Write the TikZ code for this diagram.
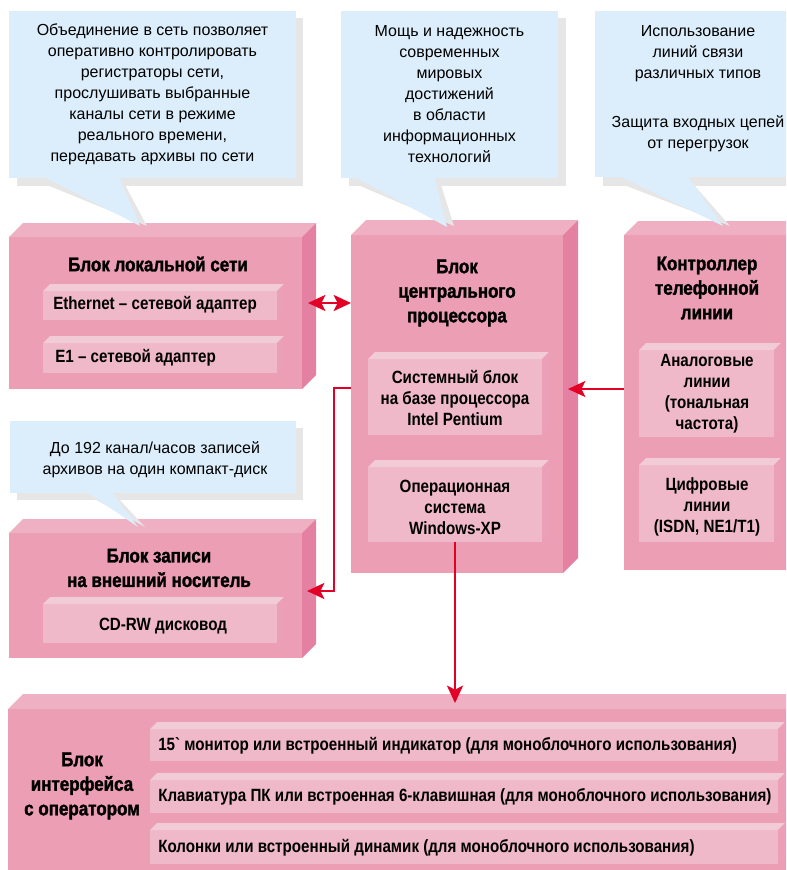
\documentclass[tikz,border=0pt]{standalone}
\usepackage{fontspec}
\setmainfont{Liberation Sans}
\newfontfamily\headfont[FakeStretch=0.86,BoldFeatures={FakeBold=1.6}]{Liberation Sans}
\newfontfamily\slabfont[FakeStretch=0.855]{Liberation Sans}
\newfontfamily\callfont{Liberation Sans}
\usetikzlibrary{arrows.meta,fit}
\definecolor{pkfront}{RGB}{236,158,181}
\definecolor{pktop}{RGB}{238,176,194}
\definecolor{pkside}{RGB}{228,128,161}
\definecolor{slfront}{RGB}{239,185,201}
\definecolor{sltop}{RGB}{241,203,214}
\definecolor{slside}{RGB}{235,160,184}
\definecolor{cblue}{RGB}{220,238,251}
\definecolor{cshadow}{RGB}{230,230,230}
\definecolor{arrred}{RGB}{226,0,38}
\newcommand\extrude[4]{%
  \fill[#3] (#1.north west) -- ++(#2,-#2) -- ([shift={(#2,-#2)}]#1.north east) -- (#1.north east) -- cycle;
  \fill[#4] (#1.north east) -- ++(#2,-#2) -- ([shift={(#2,-#2)}]#1.south east) -- (#1.south east) -- cycle;}
\tikzset{
  face/.style={inner sep=0pt, outer sep=0pt, draw=none},
  bigbox/.style={face, fill=pkfront},
  slab/.style={face, fill=slfront},
  bubble/.style={face, fill=cblue},
  htext/.style={font=\headfont\bfseries\fontsize{14.8}{18.4}\selectfont, align=center, inner sep=0pt},
  stext/.style={font=\slabfont\bfseries\fontsize{13.3}{15.8}\selectfont, align=center, inner sep=0pt},
  ctext/.style={font=\callfont\fontsize{12}{15.75}\selectfont, align=center, inner sep=0pt},
  arr/.style={draw=arrred, line width=2pt}
}
\begin{document}
\begin{tikzpicture}[x=0.75pt,y=-0.75pt]
\useasboundingbox (0,0) rectangle (786,870);
\clip (0,0) rectangle (786,870);
% ---------- big boxes ----------
\node[bigbox, fit={(9,237) (302,389)}] (b1) {};
\extrude{b1}{14}{pktop}{pkside}
\node[bigbox, fit={(351,235) (563,573)}] (b2) {};
\extrude{b2}{15}{pktop}{pkside}
\node[bigbox, fit={(624,235) (800,570)}] (b3) {};
\extrude{b3}{14}{pktop}{pkside}
\node[bigbox, fit={(9,533) (302,658)}] (b4) {};
\extrude{b4}{14}{pktop}{pkside}
\node[bigbox, fit={(8,709) (800,880)}] (b5) {};
\extrude{b5}{15}{pktop}{pkside}
% ---------- slabs ----------
\node[slab, fit={(43,291) (277,320)}] (eth) {};
\extrude{eth}{7}{sltop}{slside}
\node[slab, fit={(43,343) (277,373)}] (e1) {};
\extrude{e1}{7}{sltop}{slside}
\node[slab, fit={(368,359) (542,435)}] (sys) {};
\extrude{sys}{7}{sltop}{slside}
\node[slab, fit={(368,467) (542,542)}] (os) {};
\extrude{os}{7}{sltop}{slside}
\node[slab, fit={(639,350) (774,437)}] (an) {};
\extrude{an}{7}{sltop}{slside}
\node[slab, fit={(639,465) (774,542)}] (dig) {};
\extrude{dig}{7}{sltop}{slside}
\node[slab, fit={(43,604) (277,643)}] (cd) {};
\extrude{cd}{7}{sltop}{slside}
\node[slab, fit={(150,729) (778,761)}] (m1) {};
\extrude{m1}{7}{sltop}{slside}
\node[slab, fit={(150,780) (778,813)}] (m2) {};
\extrude{m2}{7}{sltop}{slside}
\node[slab, fit={(150,830) (778,864)}] (m3) {};
\extrude{m3}{7}{sltop}{slside}
% ---------- titles ----------
\node[htext] (t1) at (158,264) {Блок локальной сети};
\node[htext] (t2) at (457,293) {Блок\\центрального\\процессора};
\node[htext] (t3) at (707,288) {Контроллер\\телефонной\\линии};
\node[htext] (t4) at (159,568) {Блок записи\\на внешний носитель};
\node[htext] (t5) at (82,786) {Блок\\интерфейса\\с оператором};
% ---------- slab texts ----------
\node[stext, anchor=west] at (53,305) {Ethernet – сетевой адаптер};
\node[stext, anchor=west] at (55,358) {E1 – сетевой адаптер};
\node[stext] at (455,398) {Системный блок\\на базе процессора\\Intel Pentium};
\node[stext] at (455,507) {Операционная\\система\\Windows-XP};
\node[stext] at (707,394) {Аналоговые\\линии\\(тональная\\частота)};
\node[stext] at (707,507) {Цифровые\\линии\\(ISDN, NE1/T1)};
\node[stext] at (163,626) {CD-RW дисковод};
\node[stext, anchor=west] at (158,746) {15` монитор или встроенный индикатор (для моноблочного использования)};
\node[stext, anchor=west] at (158,797) {Клавиатура ПК или встроенная 6-клавишная (для моноблочного использования)};
\node[stext, anchor=west] at (158,848) {Колонки или встроенный динамик (для моноблочного использования)};
% ---------- callouts ----------
\fill[cshadow] (17,18) rectangle (303,186);
\fill[cshadow] (47,185) -- (125,185) -- (147,226) -- cycle;
\fill[cblue] (40,175) -- (118,175) -- (140,226) -- cycle;
\node[bubble, fit={(9,11) (296,178)}] (c1) {};
\node[ctext] at (c1) {Объединение в сеть позволяет\\оперативно контролировать\\регистраторы сети,\\прослушивать выбранные\\каналы сети в режиме\\реального времени,\\передавать архивы по сети};
\fill[cshadow] (349,18) rectangle (566,186);
\fill[cshadow] (358,185) -- (441,185) -- (454,226) -- cycle;
\fill[cblue] (351,175) -- (434,175) -- (447,227) -- cycle;
\node[bubble, fit={(341,11) (558,178)}] (c2) {};
\node[ctext] at (c2) {Мощь и надежность\\современных\\мировых\\достижений\\в области\\информационных\\технологий};
\fill[cshadow] (603,18) rectangle (800,186);
\fill[cshadow] (624,185) -- (694,185) -- (730,226) -- cycle;
\fill[cblue] (617,175) -- (687,175) -- (723,226) -- cycle;
\node[bubble, fit={(595,11) (800,177)}] (c3) {};
\node[ctext] (c3a) at (698,54) {Использование\\линий связи\\различных типов};
\node[ctext] (c3b) at (698,134) {Защита входных цепей\\от перегрузок};
\fill[cshadow] (17,428) rectangle (303,500);
\fill[cshadow] (91,497) -- (117,497) -- (145,527) -- cycle;
\fill[cblue] (84,490) -- (110,490) -- (138,527) -- cycle;
\node[bubble, fit={(10,421) (296,493)}] (c4) {};
\node[ctext] at (155,460) {До 192 канал/часов записей\\архивов на один компакт-диск};
% ---------- connectors ----------
\coordinate (a1s) at (308,303);
\coordinate (a1e) at (b2.west |- a1s);
\draw[arr, {Stealth[length=13pt, width=12pt, inset=3pt]}-{Stealth[length=13pt, width=12pt, inset=3pt]}] (a1s) -- (a1e);
\coordinate (a2s) at (b3.west |- 0,389);
\coordinate (a2e) at (568,389);
\draw[arr, -{Stealth[length=13pt, width=12pt, inset=3pt]}] (a2s) -- (a2e);
\coordinate (a3s) at (b2.west |- 0,388);
\coordinate (a3e) at (307,591);
\draw[arr, -{Stealth[length=13pt, width=12pt, inset=3pt]}] (a3s) -- (334,388) -- (334,591) -- (a3e);
\coordinate (a4e) at (os.south |- 0,703);
\draw[arr, -{Stealth[length=13pt, width=12pt, inset=3pt]}] (os.south) -- (a4e);
\end{tikzpicture}
\end{document}
